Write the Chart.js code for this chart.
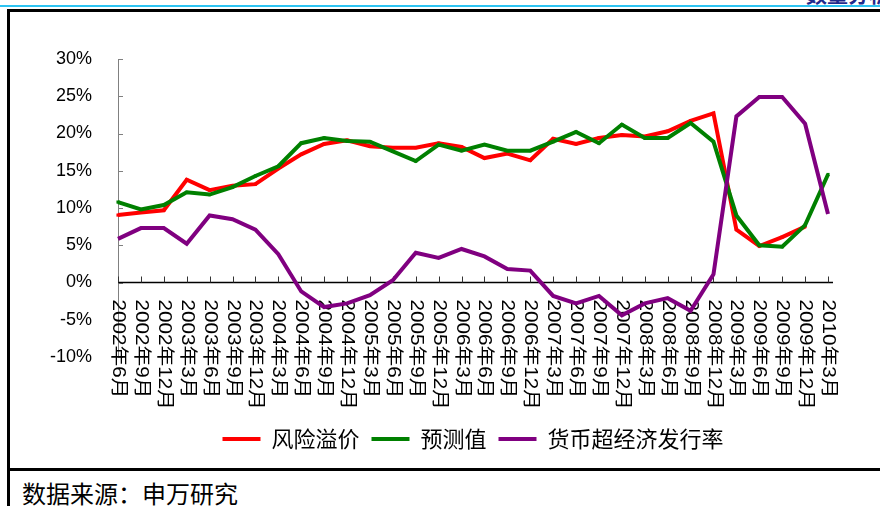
<!DOCTYPE html>
<html><head><meta charset="utf-8">
<script src="https://cdn.jsdelivr.net/npm/chart.js@4.4.1/dist/chart.umd.min.js"></script>
<style>
html,body{margin:0;padding:0;background:#fff;width:880px;height:506px;overflow:hidden;position:relative;font-family:"Noto Sans CJK SC",sans-serif;}
#topline{position:absolute;left:0;top:5px;width:880px;height:2px;background:#2EC4F2;}
#toptext{position:absolute;left:806px;top:-17px;font-size:21px;font-weight:bold;color:#1F2A8C;line-height:21px;white-space:nowrap;}
#frame{position:absolute;left:7px;top:9px;width:900px;height:520px;border-left:3px solid #000;border-top:3px solid #000;}
#sep{position:absolute;left:7px;top:468px;width:880px;height:3px;background:#000;}
#src{position:absolute;left:22px;top:479px;font-size:24px;line-height:28px;color:#000;white-space:nowrap;}
canvas{position:absolute;left:0;top:0;}
</style></head><body>
<div id="topline"></div>
<div id="toptext">数量分析</div>
<div id="frame"></div>
<div id="sep"></div>
<div id="src">数据来源：申万研究</div>
<canvas id="c" width="880" height="506"></canvas>
<script>
const categories = ['2002年6月','2002年9月','2002年12月',
  '2003年3月','2003年6月','2003年9月','2003年12月',
  '2004年3月','2004年6月','2004年9月','2004年12月',
  '2005年3月','2005年6月','2005年9月','2005年12月',
  '2006年3月','2006年6月','2006年9月','2006年12月',
  '2007年3月','2007年6月','2007年9月','2007年12月',
  '2008年3月','2008年6月','2008年9月','2008年12月',
  '2009年3月','2009年6月','2009年9月','2009年12月',
  '2010年3月'];
const riskPremium = [9.05,9.4,9.7,13.8,12.4,13.0,13.2,15.3,17.2,18.6,19.1,
  18.3,18.1,18.1,18.7,18.2,16.7,17.3,16.4,19.3,18.6,19.4,19.8,
  19.6,20.3,21.7,22.7,7.1,4.9,6.1,7.5,null];
const forecast = [10.8,9.8,10.4,12.1,11.8,12.8,14.3,15.6,18.7,19.4,19.0,
  18.9,17.6,16.3,18.5,17.7,18.5,17.7,17.7,18.9,20.2,18.7,21.2,
  19.4,19.4,21.4,18.9,9.0,5.0,4.8,7.7,14.5];
const moneyExcess = [5.85,7.3,7.3,5.2,9.0,8.5,7.1,3.8,-1.2,-3.3,-2.8,
  -1.7,0.3,4.0,3.3,4.5,3.5,1.8,1.6,-1.8,-2.8,-1.8,-4.4,
  -2.8,-2.1,-3.8,1.1,22.3,24.9,24.9,21.3,9.2];
const seriesNames = ['风险溢价','预测值','货币超经济发行率'];
const yTicks = {min:-10, max:30, step:5};

const axisPlugin = {
  id: 'customAxis',
  beforeDatasetsDraw(chart) {
    const {ctx, scales: {x, y}} = chart;
    const y0 = y.getPixelForValue(0);
    ctx.save();
    ctx.strokeStyle = '#808080'; ctx.lineWidth = 1;
    y.ticks.forEach((t, i) => {
      const py = Math.round(y.getPixelForTick(i)) + 0.5;
      ctx.beginPath(); ctx.moveTo(x.left, py); ctx.lineTo(x.left + 5, py); ctx.stroke();
    });
    ctx.strokeStyle = '#000'; ctx.lineWidth = 1.5;
    ctx.beginPath(); ctx.moveTo(x.left, y0); ctx.lineTo(x.right + 5, y0); ctx.stroke();
    ctx.lineWidth = 1; ctx.strokeStyle = '#333';
    categories.forEach((c, i) => {
      const px = Math.round(x.getPixelForValue(i)) + 0.5;
      ctx.beginPath(); ctx.moveTo(px, y0); ctx.lineTo(px, y0 - 6); ctx.stroke();
    });
    ctx.fillStyle = '#000';
    ctx.font = '18px "Liberation Sans", "Noto Sans CJK SC"';
    ctx.textAlign = 'left'; ctx.textBaseline = 'middle';
    categories.forEach((c, i) => {
      const px = x.getPixelForValue(i);
      ctx.save(); ctx.translate(px, y0 + 17); ctx.rotate(Math.PI / 2); ctx.scale(1.15, 1);
      ctx.fillText(c, 0, 0); ctx.restore();
    });
    ctx.restore();
  }
};

new Chart(document.getElementById('c'), {
  type: 'line',
  data: {
    labels: categories,
    datasets: [
      {label: seriesNames[0], data: riskPremium, borderColor: '#FF0000', backgroundColor: '#FF0000', borderWidth: 4,
       pointStyle: 'rect', pointRadius: 2.2, pointBorderWidth: 0, pointBackgroundColor: '#FF0000', tension: 0, order: 3, spanGaps: false},
      {label: seriesNames[1], data: forecast, borderColor: '#008000', backgroundColor: '#008000', borderWidth: 4,
       pointStyle: 'rect', pointRadius: 2.2, pointBorderWidth: 0, pointBackgroundColor: '#008000', tension: 0, order: 2},
      {label: seriesNames[2], data: moneyExcess, borderColor: '#800080', backgroundColor: '#800080', borderWidth: 4,
       pointRadius: 0, tension: 0, order: 1}
    ]
  },
  options: {
    responsive: false, animation: false,
    layout: {padding: {left: 0, right: 52, top: 59, bottom: 46}},
    scales: {
      x: {display: false, offset: false},
      y: {
        min: yTicks.min, max: yTicks.max,
        afterFit(scale) { scale.width = 118; },
        grid: {display: false},
        border: {display: true, color: '#808080', width: 1},
        ticks: {stepSize: yTicks.step, padding: 18, color: '#000',
          font: {family: '"Liberation Sans", Arial', size: 18},
          callback: v => v + '%'}
      }
    },
    plugins: {
      tooltip: {enabled: false},
      legend: {
        position: 'bottom', fullSize: false,
        title: {display: true, text: '', font: {size: 10, lineHeight: 1}, padding: {top: 49, bottom: 0}},
        labels: {
          boxWidth: 38, boxHeight: 4, padding: 12, color: '#000',
          font: {family: '"Noto Sans CJK SC"', size: 22},
          generateLabels(chart) {
            return chart.data.datasets.map((ds, i) => ({
              text: ds.label, fillStyle: ds.borderColor, strokeStyle: ds.borderColor,
              lineWidth: 0, hidden: false, datasetIndex: i, fontColor: '#000'
            }));
          }
        }
      }
    }
  },
  plugins: [axisPlugin]
});
</script>
</body></html>
